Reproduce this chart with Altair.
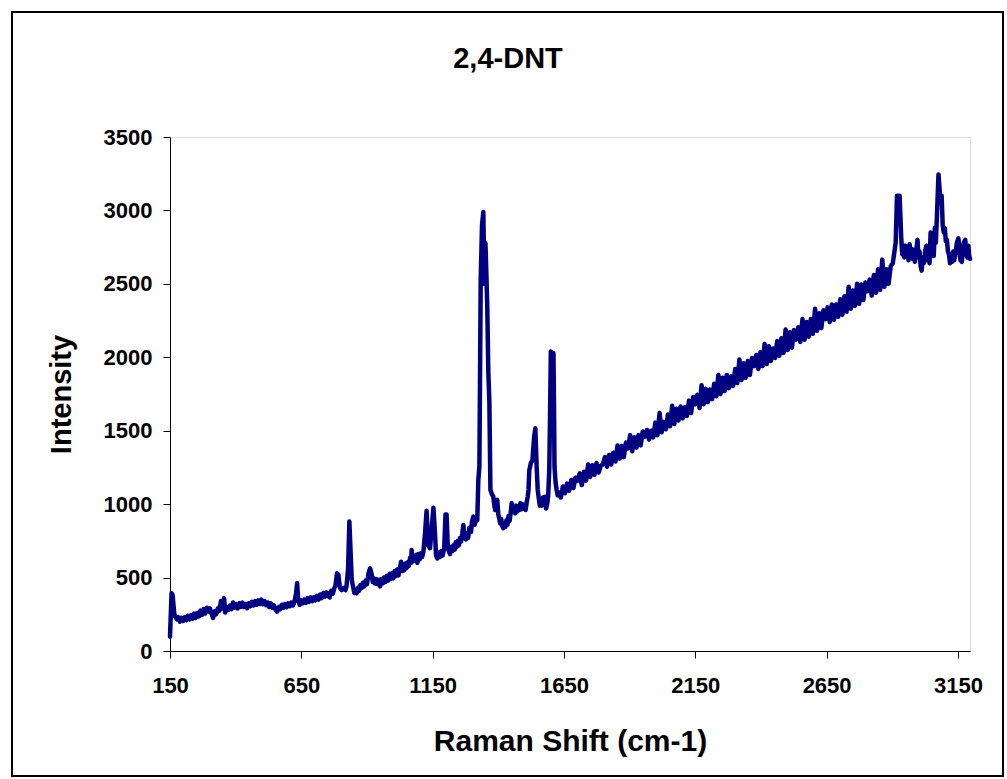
import altair as alt
import pandas as pd

# Raman shift (cm-1) / intensity pairs, by region
seg1 = [  # 150 - 800
    (150, 97), (153, 250), (156, 393), (160, 380), (164, 300), (167, 240), (170, 240), (176, 215), (182, 230),
    (188, 200), (194, 225), (200, 205), (206, 230), (212, 210), (218, 240), (224, 215), (230, 245), (236, 220),
    (242, 255), (248, 225), (254, 260), (260, 235), (266, 275), (272, 245), (278, 285), (284, 255), (290, 295),
    (296, 270), (302, 290), (308, 255), (314, 225), (320, 270), (326, 250), (332, 290), (338, 275), (344, 340),
    (350, 290), (356, 360), (360, 262), (366, 300), (372, 280), (378, 310), (384, 285), (390, 330), (396, 295),
    (402, 320), (408, 290), (414, 325), (420, 300), (426, 330), (432, 300), (438, 320), (444, 292), (450, 325),
    (456, 305), (462, 335), (468, 310), (474, 340), (480, 315), (486, 345), (492, 320), (498, 350), (504, 318),
    (510, 340), (516, 312), (522, 330), (528, 300), (534, 325), (540, 295), (546, 310), (552, 280), (558, 268),
    (564, 300), (570, 285), (576, 315), (582, 295), (588, 320), (594, 298), (600, 325), (606, 305), (612, 330),
    (618, 310), (624, 335), (630, 390), (634, 461), (638, 350), (644, 315), (650, 345), (656, 325), (662, 350),
    (668, 328), (674, 360), (680, 335), (686, 365), (692, 340), (698, 365), (704, 345), (710, 375), (716, 350),
    (722, 385), (728, 360), (734, 395), (740, 370), (746, 400), (752, 375), (758, 365), (764, 410), (770, 390),
    (776, 430), (780, 445), (786, 529), (791, 520), (797, 430),
]
seg2 = [  # 800 - 1330
    (804, 415), (812, 430), (818, 415), (822, 440), (828, 560), (833, 881), (837, 700), (842, 484), (848, 430),
    (852, 395), (856, 410), (861, 393), (866, 430), (870, 410), (875, 450), (880, 430), (885, 465), (890, 440),
    (895, 480), (900, 455), (906, 530), (912, 563), (918, 520), (922, 470), (925, 495), (930, 460), (935, 490),
    (940, 455), (945, 485), (950, 440), (955, 490), (960, 460), (965, 500), (970, 470), (975, 510), (981, 480),
    (986, 525), (990, 490), (995, 530), (1000, 495), (1005, 545), (1010, 510), (1015, 555), (1020, 515),
    (1025, 565), (1030, 608), (1034, 545), (1038, 580), (1042, 550), (1046, 595), (1051, 565), (1055, 605),
    (1060, 580), (1064, 635), (1068, 600), (1070, 688), (1074, 610), (1079, 645), (1083, 615), (1088, 655),
    (1092, 600), (1096, 660), (1101, 625), (1105, 665), (1110, 640), (1115, 680), (1121, 800), (1127, 955),
    (1133, 720), (1140, 700), (1146, 830), (1153, 975), (1159, 800), (1163, 650), (1168, 630), (1173, 670),
    (1178, 640), (1183, 680), (1188, 650), (1194, 700), (1199, 930), (1203, 930), (1208, 700), (1212, 680),
    (1216, 660), (1221, 710), (1225, 680), (1230, 720), (1234, 690), (1238, 740), (1242, 710), (1246, 750),
    (1250, 720), (1254, 770), (1258, 745), (1263, 800), (1267, 858), (1271, 780), (1276, 760), (1280, 800),
    (1285, 770), (1290, 840), (1296, 810), (1300, 880), (1305, 915), (1310, 860), (1315, 900), (1320, 892),
    (1324, 1165), (1328, 1255),
]
seg3 = [  # main bands 1330 - 1630
    (1333, 2527), (1338, 2900), (1343, 2990), (1347, 2500), (1351, 2777), (1354, 2600), (1358, 2345),
    (1362, 1900), (1366, 1700), (1370, 1097), (1375, 1070), (1381, 1051), (1385, 990), (1388, 960),
    (1392, 1000), (1396, 1029), (1400, 930), (1404, 900), (1407, 870), (1411, 900), (1415, 850), (1419, 836),
    (1423, 870), (1427, 845), (1431, 890), (1435, 860), (1439, 920), (1443, 885), (1447, 940), (1451, 1006),
    (1455, 950), (1459, 975), (1464, 938), (1468, 990), (1472, 950), (1476, 985), (1480, 960), (1484, 1006),
    (1488, 965), (1492, 1000), (1496, 970), (1500, 990), (1504, 960), (1508, 1010), (1512, 1050), (1515, 1097),
    (1518, 1230), (1524, 1280), (1530, 1300), (1536, 1450), (1541, 1517), (1546, 1255), (1550, 1100),
    (1554, 1040), (1558, 990), (1562, 1030), (1566, 990), (1570, 1045), (1574, 1000), (1578, 1051), (1582, 970),
    (1587, 1010), (1590, 1060), (1594, 1233), (1597, 1600), (1600, 2039), (1606, 2030), (1610, 2028),
    (1612, 1700), (1614, 1255), (1618, 1150), (1622, 1097), (1626, 1060),
]
seg4 = [  # rising background 1630 - 2905
    (1630, 1080), (1638, 1045), (1646, 1120), (1654, 1075), (1662, 1140), (1670, 1090), (1678, 1165),
    (1686, 1110), (1694, 1180), (1702, 1160), (1710, 1210), (1718, 1130), (1726, 1220), (1734, 1160),
    (1742, 1270), (1750, 1185), (1758, 1265), (1766, 1200), (1774, 1280), (1782, 1215), (1790, 1260),
    (1798, 1270), (1806, 1320), (1814, 1255), (1822, 1335), (1830, 1270), (1838, 1350), (1846, 1290),
    (1854, 1400), (1862, 1310), (1870, 1395), (1878, 1320), (1886, 1420), (1894, 1380), (1902, 1470),
    (1910, 1360), (1918, 1455), (1926, 1385), (1934, 1470), (1942, 1400), (1950, 1495), (1958, 1460),
    (1966, 1505), (1974, 1440), (1982, 1500), (1990, 1455), (1998, 1555), (2006, 1470), (2014, 1620),
    (2022, 1490), (2030, 1560), (2038, 1510), (2046, 1610), (2054, 1530), (2062, 1670), (2070, 1545),
    (2078, 1650), (2086, 1570), (2094, 1665), (2102, 1585), (2110, 1660), (2118, 1600), (2126, 1705),
    (2134, 1620), (2142, 1730), (2150, 1680), (2158, 1745), (2166, 1655), (2174, 1810), (2182, 1680),
    (2190, 1785), (2198, 1695), (2206, 1780), (2214, 1715), (2222, 1820), (2230, 1735), (2238, 1880),
    (2246, 1750), (2254, 1860), (2262, 1770), (2270, 1880), (2278, 1790), (2286, 1870), (2294, 1805),
    (2302, 1920), (2310, 1825), (2318, 1985), (2326, 1845), (2334, 1960), (2342, 1860), (2350, 1975),
    (2358, 1880), (2366, 1995), (2374, 1940), (2382, 2015), (2390, 1920), (2398, 2035), (2406, 1940),
    (2414, 2090), (2422, 1955), (2430, 2075), (2438, 1975), (2446, 2060), (2454, 1995), (2462, 2110),
    (2470, 2010), (2478, 2130), (2486, 2030), (2494, 2190), (2502, 2050), (2510, 2170), (2518, 2065),
    (2526, 2185), (2534, 2120), (2542, 2205), (2550, 2105), (2558, 2260), (2566, 2120), (2574, 2240),
    (2582, 2140), (2590, 2260), (2598, 2160), (2606, 2330), (2614, 2180), (2622, 2300), (2630, 2200),
    (2638, 2320), (2646, 2260), (2654, 2340), (2662, 2240), (2670, 2360), (2678, 2255), (2686, 2360),
    (2694, 2275), (2702, 2395), (2710, 2290), (2718, 2415), (2726, 2310), (2734, 2480), (2742, 2330),
    (2750, 2455), (2758, 2350), (2766, 2500), (2774, 2365), (2782, 2495), (2790, 2390), (2798, 2510),
    (2806, 2450), (2814, 2530), (2822, 2420), (2830, 2560), (2838, 2440), (2846, 2600), (2854, 2460),
    (2862, 2665), (2870, 2480), (2878, 2600), (2886, 2500), (2894, 2620), (2902, 2640),
]
seg5 = [  # C-H region 2905 - 3196
    (2913, 2780), (2918, 3100), (2928, 3100), (2934, 2820), (2938, 2700), (2942, 2760), (2946, 2680),
    (2950, 2760), (2954, 2690), (2958, 2740), (2962, 2660), (2966, 2770), (2970, 2690), (2974, 2740),
    (2978, 2670), (2982, 2730), (2986, 2650), (2990, 2700), (2996, 2800), (3000, 2680), (3004, 2720),
    (3008, 2620), (3012, 2590), (3016, 2680), (3020, 2640), (3026, 2730), (3030, 2760), (3034, 2660),
    (3038, 2700), (3042, 2640), (3046, 2850), (3050, 2700), (3054, 2760), (3058, 2690), (3062, 2880),
    (3066, 2780), (3070, 2960), (3076, 3245), (3082, 3100), (3088, 3100), (3092, 2900), (3096, 2850),
    (3100, 2880), (3104, 2790), (3108, 2800), (3112, 2720), (3116, 2700), (3120, 2640), (3124, 2700),
    (3128, 2650), (3132, 2720), (3136, 2660), (3140, 2700), (3146, 2780), (3152, 2810), (3156, 2720),
    (3160, 2660), (3165, 2650), (3168, 2720), (3172, 2780), (3178, 2800), (3182, 2700), (3186, 2680),
    (3190, 2760), (3193, 2690), (3196, 2670),
]
x_ticks = [150, 650, 1150, 1650, 2150, 2650, 3150]
y_ticks = [0, 500, 1000, 1500, 2000, 2500, 3000, 3500]

points = seg1 + seg2 + seg3 + seg4 + seg5
df = pd.DataFrame({
    "shift": [p[0] for p in points],
    "intensity": [p[1] for p in points],
    "order": list(range(len(points))),
})
FONT = "Liberation Sans"

line = alt.Chart(df).mark_line(
    color="#000080", strokeWidth=4.5, strokeJoin="round", strokeCap="round"
).encode(
    x=alt.X(
        "shift:Q",
        scale=alt.Scale(domain=[150, 3196], nice=False, zero=False),
        axis=alt.Axis(
            values=x_ticks, format="d", grid=False, tickSize=7, labelPadding=17,
            labelFont=FONT, labelFontSize=22, labelFontWeight="bold", labelColor="black",
            domainColor="black", tickColor="black", labelFlush=False,
            title="Raman Shift (cm-1)", titleFont=FONT, titleFontSize=30,
            titleFontWeight="bold", titleColor="black", titleY=99,
            titleBaseline="alphabetic", titleAlign="center",
        ),
    ),
    y=alt.Y(
        "intensity:Q",
        scale=alt.Scale(domain=[0, 3500], nice=False),
        axis=alt.Axis(
            values=y_ticks, format="d", grid=False, tickSize=7, labelPadding=11,
            labelFont=FONT, labelFontSize=22, labelFontWeight="bold", labelColor="black",
            domainColor="black", tickColor="black", labelFlush=False,
            title="Intensity", titleFont=FONT, titleFontSize=29, titleFontWeight="bold",
            titleColor="black", titleAngle=270, titleX=-100, titleY=257,
            titleBaseline="alphabetic", titleAlign="center",
        ),
    ),
    order="order:Q",
)

border = alt.Chart(pd.DataFrame({"a": [0]})).mark_rect(
    fillOpacity=0, stroke="black", strokeWidth=2
).encode(
    x=alt.value(-158), x2=alt.value(833), y=alt.value(-125), y2=alt.value(639)
)

title = alt.Chart(pd.DataFrame({"t": ["2,4-DNT"]})).mark_text(
    font=FONT, fontSize=29, fontWeight="bold", color="black",
    align="center", baseline="alphabetic",
).encode(text="t:N", x=alt.value(338), y=alt.value(-69))

chart = alt.layer(border, title, line).properties(
    width=800,
    height=514,
    padding={"left": 170, "top": 137, "right": 37, "bottom": 128},
    autosize=alt.AutoSizeParams(type="none"),
).configure_view(strokeWidth=0).configure(background="white")

chart.save("out.html", embed_options={"renderer": "svg", "actions": False})
